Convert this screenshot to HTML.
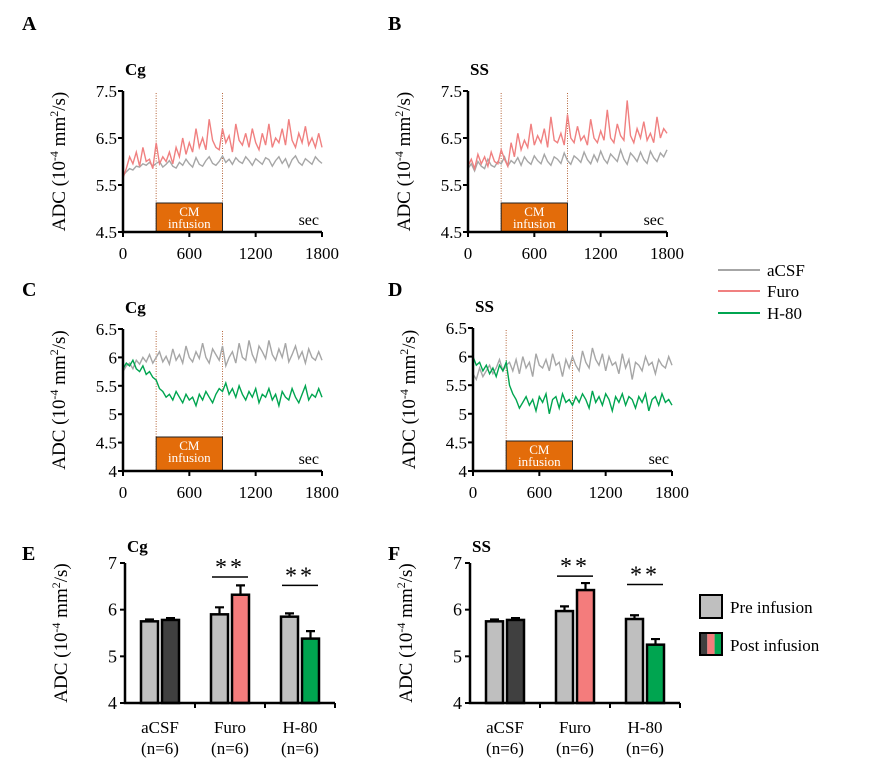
<!DOCTYPE html>
<html><head><meta charset="utf-8"><style>
body{margin:0;background:#fff}
svg{display:block;font-family:"Liberation Serif",serif}
</style></head><body>
<svg id="fig" width="879" height="776" viewBox="0 0 879 776"></svg>
<script>
const timeTicks=[0,600,1200,1800];
const aTicks=[4.5,5.5,6.5,7.5];
const cTicks=[4,4.5,5,5.5,6,6.5];
const A_acsf=[5.70,5.78,5.85,5.82,5.90,5.88,5.95,5.92,5.98,5.90,5.96,6.00,5.88,5.94,6.02,5.90,5.86,5.98,5.92,6.05,5.95,5.88,6.08,5.94,5.90,6.02,6.10,5.96,5.92,6.00,6.12,5.98,6.05,5.94,6.08,6.00,5.96,6.10,6.02,5.92,6.06,6.00,5.94,6.08,6.04,5.90,6.02,6.10,5.96,6.06,5.88,6.04,6.12,5.98,5.92,6.06,6.00,5.94,6.10,6.02,5.96];
const A_furo=[5.65,5.85,6.10,5.95,6.20,5.90,6.30,6.00,6.05,5.85,6.40,5.95,6.10,6.00,6.20,5.95,6.30,6.10,6.50,6.15,6.40,6.20,6.70,6.30,6.50,6.25,6.90,6.45,6.30,6.25,6.70,6.40,6.55,6.20,6.80,6.45,6.35,6.60,6.30,6.70,6.40,6.25,6.60,6.35,6.80,6.30,6.50,6.40,6.70,6.35,6.90,6.45,6.30,6.60,6.40,6.75,6.35,6.50,6.30,6.60,6.30];
const B_acsf=[5.85,5.95,5.80,6.00,5.90,5.85,6.05,5.92,5.88,6.00,5.95,6.10,5.90,6.02,5.96,6.08,5.92,6.10,6.00,5.94,6.12,6.02,5.95,6.15,6.00,5.92,6.10,6.05,5.96,6.18,6.02,5.94,6.12,6.06,5.98,6.20,6.04,5.95,6.14,6.00,6.22,6.05,5.96,6.16,6.08,6.00,6.25,6.05,5.94,6.18,6.10,6.00,6.20,6.04,5.96,6.22,6.08,6.00,6.18,6.10,6.25];
const B_furo=[5.90,6.05,5.85,6.15,5.95,6.10,5.90,6.20,6.00,5.95,6.25,6.05,5.90,6.40,6.10,6.60,6.25,6.45,6.30,6.80,6.35,6.55,6.40,6.70,6.30,6.95,6.45,6.40,6.60,6.35,7.00,6.50,6.40,6.75,6.45,6.55,6.35,6.90,6.50,6.40,6.65,6.45,7.10,6.50,6.40,6.80,6.55,6.45,7.30,6.55,6.40,6.70,6.50,6.85,6.45,6.60,6.40,6.95,6.50,6.70,6.60];
const C_acsf=[5.75,5.85,5.90,5.80,5.95,5.88,6.00,5.92,6.05,5.90,6.00,6.10,5.92,6.02,5.88,6.15,5.95,6.05,5.90,6.20,6.00,5.92,6.10,5.98,6.25,6.00,5.90,6.15,6.05,5.95,6.20,5.85,6.00,6.10,5.90,6.25,6.00,5.95,6.30,6.05,5.92,6.20,6.10,5.98,6.30,6.05,5.95,6.15,6.00,6.25,5.92,6.05,6.20,5.98,6.10,5.90,6.15,6.00,5.95,6.10,5.95];
const C_h80=[5.80,5.90,5.85,5.95,5.80,5.75,5.85,5.70,5.75,5.65,5.60,5.45,5.40,5.30,5.35,5.25,5.40,5.30,5.20,5.35,5.25,5.30,5.15,5.35,5.25,5.40,5.30,5.20,5.35,5.45,5.40,5.55,5.35,5.45,5.30,5.50,5.35,5.25,5.40,5.30,5.45,5.20,5.35,5.30,5.45,5.25,5.35,5.15,5.40,5.30,5.25,5.45,5.30,5.20,5.35,5.50,5.25,5.35,5.30,5.45,5.30];
const D_acsf=[5.70,5.60,5.80,5.65,5.75,5.85,5.70,5.80,5.95,5.75,5.85,5.90,5.75,5.95,5.70,6.00,5.80,5.90,5.65,6.05,5.85,5.80,5.95,5.75,6.05,5.85,5.90,5.65,5.95,5.80,6.00,5.85,5.75,6.10,5.90,5.80,6.15,5.95,5.85,6.05,5.75,6.00,5.85,5.90,5.70,6.05,5.80,5.95,5.60,5.90,5.85,5.75,6.00,5.85,5.90,5.70,5.95,5.85,5.80,6.00,5.85];
const D_h80=[6.00,5.85,5.90,5.75,5.85,5.70,5.80,5.65,5.85,5.75,5.90,5.50,5.35,5.25,5.10,5.20,5.30,5.15,5.25,5.05,5.30,5.20,5.35,5.00,5.25,5.30,5.10,5.35,5.20,5.25,5.15,5.30,5.20,5.35,5.25,5.10,5.40,5.20,5.30,5.15,5.35,5.25,5.05,5.30,5.20,5.35,5.15,5.30,5.25,5.10,5.30,5.20,5.35,5.05,5.25,5.30,5.15,5.35,5.20,5.25,5.15];
const groups=["aCSF","Furo","H-80"];
const E_pre=[5.75,5.90,5.85], E_preErr=[0.04,0.15,0.07];
const E_post=[5.78,6.32,5.38], E_postErr=[0.04,0.20,0.16];
const F_pre=[5.75,5.97,5.80], F_preErr=[0.04,0.10,0.08];
const F_post=[5.78,6.42,5.25], F_postErr=[0.04,0.15,0.12];
const barTicks=[4,5,6,7];

const NS="http://www.w3.org/2000/svg";
const svg=document.getElementById('fig');
function mk(tag,attrs,parent,text){const e=document.createElementNS(NS,tag);for(const k in attrs)e.setAttribute(k,attrs[k]);if(text!==undefined)e.textContent=text;(parent||svg).appendChild(e);return e;}
function ylabel(g,x,y){const t=mk('text',{x:x,y:y,'font-size':19,'text-anchor':'middle',transform:`rotate(-90 ${x} ${y})`},g);

t.innerHTML='ADC (10<tspan dy="-7" font-size="12">-4</tspan><tspan dy="7"> mm</tspan><tspan dy="-7" font-size="12">2</tspan><tspan dy="7">/s)</tspan>';}
function panelLetter(l,x,y){const t=mk('text',{x:x,y:y,'font-size':20,'font-weight':'bold'},svg,l);}

function linePanel(name,x0,x1,yTop,yBot,ticks,region,s1,c1,s2,c2,box,tickFmt){
 const g=mk('g',{});
 const ymin=ticks[0],ymax=ticks[ticks.length-1];
 const sx=v=>x0+(v/1800)*(x1-x0), sy=v=>yBot-(v-ymin)/(ymax-ymin)*(yBot-yTop);
 const t=mk('text',{x:x0+2,y:yTop-16,'font-size':17,'font-weight':'bold'},g,region);
 ylabel(g,x0-58,(yTop+yBot)/2);
 [300,900].forEach(v=>{const l=mk('line',{x1:sx(v),x2:sx(v),y1:yTop+2,y2:yBot,stroke:'#b5653a','stroke-width':1,'stroke-dasharray':'1,1.5'},g);});
 [[s1,c1],[s2,c2]].forEach(([s,c],k)=>{const pts=s.map((v,i)=>sx(i*1800/(s.length-1)).toFixed(1)+','+sy(v).toFixed(1)).join(' ');
  const p=mk('polyline',{points:pts,fill:'none',stroke:c,'stroke-width':1.4},g);});
 const r=mk('rect',{x:sx(300),y:box,width:sx(900)-sx(300),height:yBot-box,fill:'#e36c0a',stroke:'#222','stroke-width':1},g);
 mk('text',{x:(sx(300)+sx(900))/2,y:box+13,'font-size':13,fill:'#fff','text-anchor':'middle'},g,'CM');
 mk('text',{x:(sx(300)+sx(900))/2,y:box+25,'font-size':13,fill:'#fff','text-anchor':'middle'},g,'infusion');
 const st=mk('text',{x:x1-3,y:yBot-7,'font-size':16,'text-anchor':'end'},g,'sec');
 const ax=mk('path',{d:`M${x0},${yTop} V${yBot} H${x1}`,fill:'none',stroke:'#000','stroke-width':2.5},g);
 ticks.forEach(v=>{mk('line',{x1:x0-5,x2:x0,y1:sy(v),y2:sy(v),stroke:'#000','stroke-width':2},g);
  const tl=mk('text',{x:x0-6,y:sy(v)+6,'font-size':17,'text-anchor':'end'},g,tickFmt(v));});
 timeTicks.forEach(v=>{mk('line',{x1:sx(v),x2:sx(v),y1:yBot,y2:yBot+5,stroke:'#000','stroke-width':2},g);
  const tl=mk('text',{x:sx(v),y:yBot+27,'font-size':17,'text-anchor':'middle'},g,String(v));});
}
const f1=v=>v.toFixed(1), f2=v=>String(v);
linePanel('a',123,322,91,232,aTicks,'Cg',A_acsf,'#a6a6a6',A_furo,'#f08080',203,f1);
linePanel('b',468,667,91,232,aTicks,'SS',B_acsf,'#a6a6a6',B_furo,'#f08080',203,f1);
linePanel('c',123,322,329,471,cTicks,'Cg',C_acsf,'#a6a6a6',C_h80,'#00a550',437,f2);
linePanel('d',473,672,328,471,cTicks,'SS',D_acsf,'#a6a6a6',D_h80,'#00a550',441,f2);

function barPanel(name,x0,x1,region,pre,preE,post,postE,sig){
 const g=mk('g',{});
 const yTop=563,yBot=703,sy=v=>yBot-(v-4)/3*(yBot-yTop);
 const t=mk('text',{x:x0+2,y:552,'font-size':17,'font-weight':'bold'},g,region);
 ylabel(g,x0-58,633);
 const gw=(x1-x0)/3;
 const postCols=['#404040','#f47c7c','#00a550'];
 groups.forEach((gn,i)=>{const cx=x0+gw*i+gw/2;
  [[pre[i],preE[i],'#bfbfbf',cx-19,'pre'],[post[i],postE[i],postCols[i],cx+2,'post']].forEach(([v,e,c,bx,k])=>{
   const er=mk('path',{d:`M${bx+8.5},${sy(v)} V${sy(v+e)} M${bx+4},${sy(v+e)} H${bx+13}`,stroke:'#000','stroke-width':2.2,fill:'none'},g);
   const b=mk('rect',{x:bx,y:sy(v),width:17,height:yBot-sy(v),fill:c,stroke:'#000','stroke-width':2.5},g);});
  const l1=mk('text',{x:cx,y:733,'font-size':17,'text-anchor':'middle'},g,gn);
  mk('text',{x:cx,y:754,'font-size':17,'text-anchor':'middle'},g,'(n=6)');
  mk('line',{x1:x0+gw*(i+1),x2:x0+gw*(i+1),y1:yBot,y2:yBot+5,stroke:'#000','stroke-width':2},g);
  if(i>0){const yy=sy(sig[i]);const sl=mk('line',{x1:cx-18,x2:cx+18,y1:yy,y2:yy,stroke:'#000','stroke-width':1.5},g);
   const ss=mk('text',{x:cx,y:yy-2,'font-size':24,'text-anchor':'middle','letter-spacing':'3'},g,'**');}
 });
 const ax=mk('path',{d:`M${x0},${yTop} V${yBot} H${x1}`,fill:'none',stroke:'#000','stroke-width':2.5},g);
 barTicks.forEach(v=>{mk('line',{x1:x0-5,x2:x0,y1:sy(v),y2:sy(v),stroke:'#000','stroke-width':2},g);
  const tl=mk('text',{x:x0-8,y:sy(v)+6,'font-size':18,'text-anchor':'end'},g,String(v));});
}
barPanel('e',125,335,'Cg',E_pre,E_preErr,E_post,E_postErr,[0,6.7,6.52]);
barPanel('f',470,680,'SS',F_pre,F_preErr,F_post,F_postErr,[0,6.72,6.54]);

panelLetter('A',22,30);panelLetter('B',388,30);panelLetter('C',22,296);panelLetter('D',388,296);panelLetter('E',22,560);panelLetter('F',388,560);

const leg=mk('g',{});
[['aCSF','#a6a6a6',270],['Furo','#f08080',291],['H-80','#00a550',313]].forEach(([n,c,y])=>{
 const e=mk('g',{},leg);
 mk('line',{x1:718,x2:760,y1:y,y2:y,stroke:c,'stroke-width':2},e);
 mk('text',{x:767,y:y+6,'font-size':17},e,n);});
const bl=mk('g',{});
mk('rect',{x:700,y:595,width:22,height:23,fill:'#bfbfbf',stroke:'#000','stroke-width':2},bl);
mk('text',{x:730,y:613,'font-size':17},bl,'Pre infusion');
mk('rect',{x:700,y:633,width:7.3,height:22,fill:'#404040'},bl);
mk('rect',{x:707.3,y:633,width:7.3,height:22,fill:'#f47c7c'},bl);
mk('rect',{x:714.6,y:633,width:7.4,height:22,fill:'#00a550'},bl);
mk('rect',{x:700,y:633,width:22,height:22,fill:'none',stroke:'#000','stroke-width':2},bl);
mk('text',{x:730,y:651,'font-size':17},bl,'Post infusion');
</script>
</body></html>
